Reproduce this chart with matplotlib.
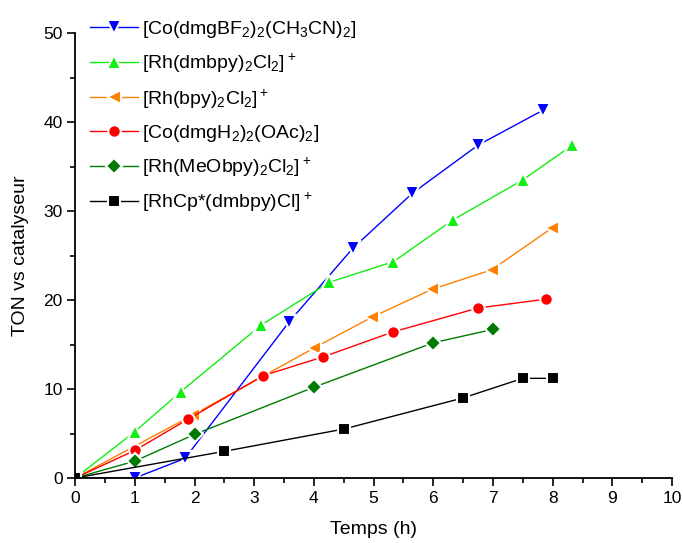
import matplotlib
matplotlib.use("Agg")
import matplotlib.pyplot as plt
from matplotlib.ticker import MultipleLocator

plt.rcParams['font.family'] = ['Liberation Sans', 'DejaVu Sans']
plt.rcParams['mathtext.default'] = 'regular'

# Data
t_co_bf2 = [0, 1, 1.84, 3.58, 4.65, 5.65, 6.75, 7.83]
ton_co_bf2 = [0, 0, 2.2, 17.5, 25.8, 32.0, 37.4, 41.3]

t_rh_dmbpy = [0, 1, 1.77, 3.12, 4.26, 5.33, 6.33, 7.5, 8.33]
ton_rh_dmbpy = [0, 5.2, 9.7, 17.2, 22.0, 24.3, 29.0, 33.5, 37.4]

t_rh_bpy = [0, 1.98, 4.0, 4.98, 5.98, 6.98, 7.99]
ton_rh_bpy = [0, 7.1, 14.6, 18.1, 21.2, 23.4, 28.1]

t_co_oac = [0, 1, 1.89, 3.15, 4.15, 5.32, 6.75, 7.89]
ton_co_oac = [0, 3.1, 6.6, 11.5, 13.6, 16.4, 19.1, 20.1]

t_rh_meo = [0, 1, 2, 4, 6, 7]
ton_rh_meo = [0, 1.9, 4.9, 10.2, 15.2, 16.7]

t_rhcp = [0, 2.5, 4.5, 6.5, 7.5, 8.0]
ton_rhcp = [0, 3.0, 5.5, 9.0, 11.2, 11.2]

labels = [
    r'[Co(dmgBF$_2$)$_2$(CH$_3$CN)$_2$]',
    r'[Rh(dmbpy)$_2$Cl$_2$]$^+$',
    r'[Rh(bpy)$_2$Cl$_2$]$^+$',
    r'[Co(dmgH$_2$)$_2$(OAc)$_2$]',
    r'[Rh(MeObpy)$_2$Cl$_2$]$^+$',
    r'[RhCp*(dmbpy)Cl]$^+$',
]

series = [
    (t_co_bf2, ton_co_bf2, '#0000FF', 'v', 10),
    (t_rh_dmbpy, ton_rh_dmbpy, '#11EE11', '^', 10),
    (t_rh_bpy, ton_rh_bpy, '#FF8000', '<', 10),
    (t_co_oac, ton_co_oac, '#FF0000', 'o', 9),
    (t_rh_meo, ton_rh_meo, '#007A00', 'D', 8.5),
    (t_rhcp, ton_rhcp, '#000000', 's', 8),
]

fig = plt.figure(figsize=(6.83, 5.43), dpi=100)
ax = fig.add_axes([0.110, 0.1197, 0.874, 0.8195])

for (x, y, c, m, ms), lab in zip(series, labels):
    ax.plot(x, y, color=c, lw=1.0, marker=m, markersize=ms,
            markerfacecolor=c, markeredgecolor='white', markeredgewidth=1.5,
            label=lab)

ax.set_xlim(0, 10)
ax.set_ylim(0, 50)
ax.xaxis.set_major_locator(MultipleLocator(1))
ax.xaxis.set_minor_locator(MultipleLocator(0.5))
ax.yaxis.set_major_locator(MultipleLocator(10))
ax.yaxis.set_minor_locator(MultipleLocator(5))
ax.tick_params(which='major', direction='out', length=6, width=1.2, labelsize=12.5, pad=3)
ax.tick_params(which='minor', direction='out', length=3.5, width=1.2)
for s in ['top', 'right']:
    ax.spines[s].set_visible(False)
for s in ['left', 'bottom']:
    ax.spines[s].set_linewidth(1.3)

ax.set_xlabel('Temps (h)', fontsize=14, labelpad=11)
ax.set_ylabel('TON vs catalyseur', fontsize=14, labelpad=10)

leg = ax.legend(loc='upper left', bbox_to_anchor=(0.005, 1.058), frameon=False,
                fontsize=14, handlelength=2.5, handletextpad=0.2,
                labelspacing=0.62, borderaxespad=0.2)

fig.savefig('out.png', dpi=100)
